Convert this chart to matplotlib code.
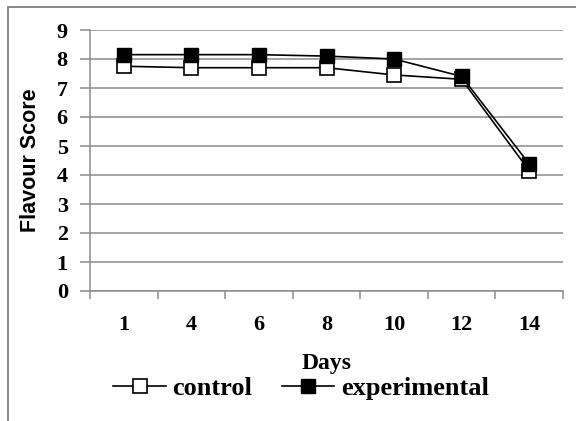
import matplotlib
matplotlib.use("Agg")
import matplotlib.pyplot as plt
from matplotlib.patches import Rectangle

days = ["1", "4", "6", "8", "10", "12", "14"]
control = [7.75, 7.7, 7.7, 7.7, 7.45, 7.3, 4.15]
experimental = [8.15, 8.15, 8.15, 8.1, 8.0, 7.4, 4.38]
yticks = list(range(0, 10))

serif = "Liberation Serif"
fig = plt.figure(figsize=(5.76, 4.21), dpi=100)
ax = fig.add_axes([90/576, 1-291/421, (563-90)/576, (291-30)/421])

x = list(range(len(days)))
ax.set_axisbelow(True)
ax.yaxis.grid(True, color="#8c8c8c", linewidth=1.1)
ax.plot(x, control, color="black", linewidth=1.2, marker="s", markersize=10.5,
        markerfacecolor="white", markeredgecolor="black", markeredgewidth=1.2,
        label="control", zorder=3)
ax.plot(x, experimental, color="black", linewidth=1.2, marker="s", markersize=10.5,
        markerfacecolor="black", markeredgecolor="black", label="experimental", zorder=4)

ax.set_xlim(-0.5, len(days) - 0.5)
ax.set_ylim(0, 9)
ax.set_yticks(yticks)
ax.set_yticklabels([str(v) for v in yticks], fontfamily=serif, fontweight="bold", fontsize=16)
ax.set_xticks([i - 0.5 for i in range(len(days) + 1)], minor=False)
ax.set_xticklabels([])
ax.set_xticks(x, minor=True)
ax.set_xticklabels(days, minor=True, fontfamily=serif, fontweight="bold", fontsize=16)
ax.tick_params(axis="x", which="minor", length=0, pad=17)
ax.tick_params(axis="x", which="major", length=6, color="#8c8c8c", width=1.1)
ax.tick_params(axis="y", length=7, color="#8c8c8c", width=1.1, pad=9)

for s in ["top", "right"]:
    ax.spines[s].set_visible(False)
for s in ["left", "bottom"]:
    ax.spines[s].set_color("#8c8c8c")
    ax.spines[s].set_linewidth(1.1)

ax.set_xlabel("Days", fontfamily=serif, fontweight="bold", fontsize=17, labelpad=13)
fig.text(30/576, 1-160/421, "Flavour Score", rotation=90, ha="center", va="center",
         fontfamily="Liberation Sans", fontweight="bold", fontsize=15.5)

leg = fig.legend(loc="center", bbox_to_anchor=(301/576, 1-388/421), ncol=2, frameon=False,
                 prop={"family": serif, "weight": "bold", "size": 19},
                 handlelength=2.0, handletextpad=0.25, columnspacing=1.1, markerscale=0.9,
                 borderaxespad=0, borderpad=0)

fig.add_artist(Rectangle((8/576, -0.1), 2, 1.1 - 7/421, transform=fig.transFigure,
                         fill=False, edgecolor="#808080", linewidth=1.3))

fig.savefig("out.png", dpi=100)
